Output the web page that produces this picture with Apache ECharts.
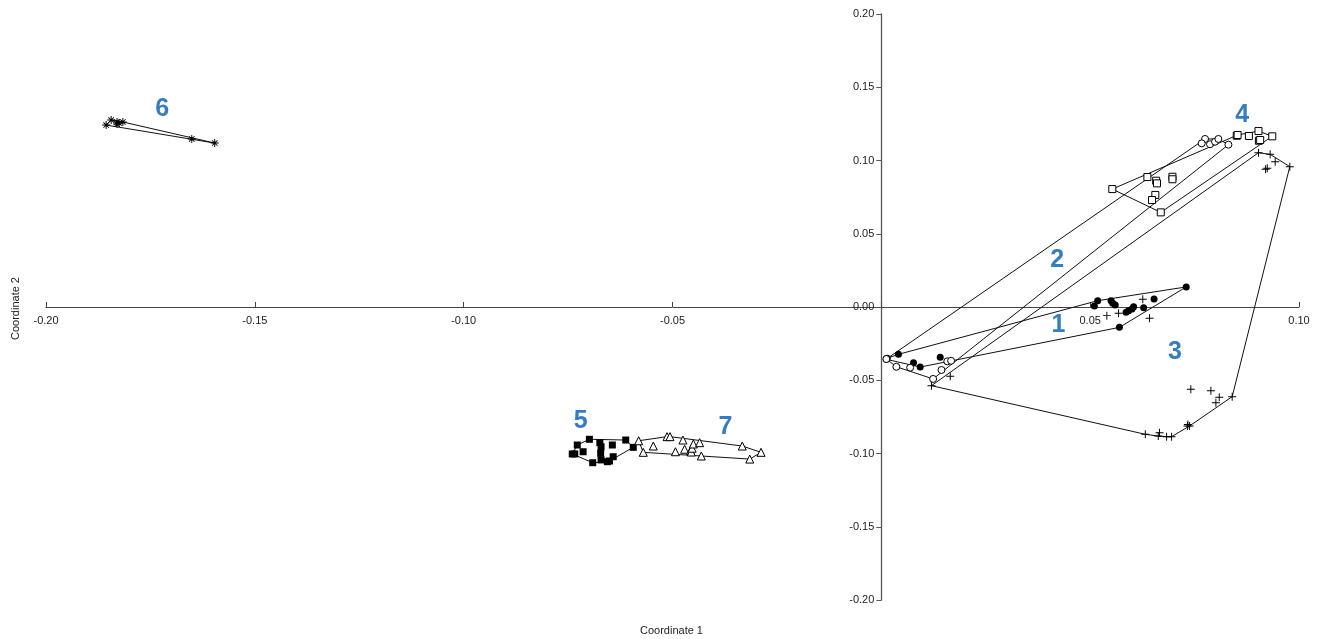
<!DOCTYPE html>
<html>
<head>
<meta charset="utf-8">
<script src="https://cdn.jsdelivr.net/npm/echarts@6/dist/echarts.min.js"></script>
<style>
  html, body { margin: 0; padding: 0; background: #ffffff; }
  #chart { width: 1320px; height: 639px; }
</style>
</head>
<body>
<div id="chart"></div>
<script>
// Ordination scores (Coordinate 1, Coordinate 2) for the seven groups
const group1 = [
  [0.0014, -0.0350], [0.0012, -0.0357], [0.0041, -0.0323], [0.0077, -0.0380],
  [0.0093, -0.0410], [0.0141, -0.0343], [0.0510, 0.0007], [0.0518, 0.0043],
  [0.0550, 0.0043], [0.0554, 0.0025], [0.0560, 0.0014], [0.0586, -0.0036],
  [0.0592, -0.0025], [0.0600, -0.0014], [0.0604, 0.0002], [0.0628, -0.0005],
  [0.0653, 0.0055], [0.0570, -0.0139], [0.0730, 0.0137]
];
const group2 = [
  [0.0012, -0.0355], [0.0036, -0.0408], [0.0069, -0.0414], [0.0124, -0.0491],
  [0.0144, -0.0430], [0.0158, -0.0371], [0.0167, -0.0367], [0.0775, 0.1147],
  [0.0767, 0.1117], [0.0787, 0.1111], [0.0799, 0.1128], [0.0807, 0.1147],
  [0.0831, 0.1108]
];
const group3 = [
  [0.0165, -0.0473], [0.0120, -0.0537], [0.0540, -0.0059], [0.0568, -0.0043],
  [0.0626, 0.0053], [0.0642, -0.0077], [0.0741, -0.0562], [0.0789, -0.0571],
  [0.0809, -0.0616], [0.0801, -0.0653], [0.0840, -0.0612], [0.0733, -0.0812],
  [0.0738, -0.0812], [0.0734, -0.0802], [0.0632, -0.0869], [0.0666, -0.0858],
  [0.0663, -0.0881], [0.0683, -0.0885], [0.0695, -0.0885], [0.0903, 0.1053],
  [0.0931, 0.1042], [0.0943, 0.0992], [0.0924, 0.0947], [0.0920, 0.0940],
  [0.0978, 0.0958]
];
const group4 = [
  [0.0553, 0.0805], [0.0637, 0.0887], [0.0658, 0.0862], [0.0660, 0.0844],
  [0.0697, 0.0889], [0.0697, 0.0872], [0.0656, 0.0765], [0.0648, 0.0730],
  [0.0669, 0.0646], [0.0851, 0.1169], [0.0853, 0.1174], [0.0880, 0.1167],
  [0.0903, 0.1201], [0.0936, 0.1165], [0.0904, 0.1135], [0.0907, 0.1140]
];
const group5 = [
  [-0.0740, -0.1003], [-0.0734, -0.1003], [-0.0728, -0.0942], [-0.0714, -0.0988],
  [-0.0699, -0.0903], [-0.0691, -0.1063], [-0.0674, -0.0926], [-0.0671, -0.0954],
  [-0.0672, -0.0999], [-0.0671, -0.1044], [-0.0656, -0.1056], [-0.0644, -0.0942],
  [-0.0642, -0.1022], [-0.0651, -0.1051], [-0.0612, -0.0908], [-0.0594, -0.0958]
];
const group6 = [
  [-0.1856, 0.1242], [-0.1844, 0.1276], [-0.1830, 0.1263], [-0.1825, 0.1256],
  [-0.1816, 0.1263], [-0.1830, 0.1249], [-0.1651, 0.1147], [-0.1596, 0.1119]
];
const group7 = [
  [-0.0581, -0.0913], [-0.0570, -0.0992], [-0.0546, -0.0949], [-0.0513, -0.0885],
  [-0.0506, -0.0885], [-0.0493, -0.0988], [-0.0475, -0.0908], [-0.0471, -0.0971],
  [-0.0457, -0.0981], [-0.0455, -0.0990], [-0.0453, -0.0964], [-0.0450, -0.0935],
  [-0.0435, -0.0926], [-0.0431, -0.1017], [-0.0333, -0.0949], [-0.0315, -0.1038],
  [-0.0288, -0.0992]
];
const groupNames = ['1', '2', '3', '4', '5', '6', '7'];
const xAxisTitle = 'Coordinate 1';
const yAxisTitle = 'Coordinate 2';

// Axis ranges
const X_MIN = -0.2, X_MAX = 0.1, X_STEP = 0.05;
const Y_MIN = -0.2, Y_MAX = 0.2, Y_STEP = 0.05;

// Marker shapes per group (hollow shapes: white fill, thin black outline)
const PLUS = 'path://M4.4,0H5.6V10H4.4ZM0,4.4H10V5.6H0Z';
const STAR = 'path://M4.4,0H5.6V10H4.4ZM0,4.4H10V5.6H0ZM1.2,2.0L2.0,1.2L8.8,8.0L8.0,8.8ZM8.0,1.2L8.8,2.0L2.0,8.8L1.2,8.0Z';
const groups = [
  { name: groupNames[0], data: group1, symbol: 'circle', size: 7, hollow: false },
  { name: groupNames[1], data: group2, symbol: 'circle', size: 7, hollow: true },
  { name: groupNames[2], data: group3, symbol: PLUS, size: 8, hollow: false },
  { name: groupNames[3], data: group4, symbol: 'rect', size: 7, hollow: true },
  { name: groupNames[4], data: group5, symbol: 'rect', size: 7, hollow: false },
  { name: groupNames[5], data: group6, symbol: STAR, size: 8, hollow: false },
  { name: groupNames[6], data: group7, symbol: 'triangle', size: 8, hollow: true }
];

// Group number placement (data coordinates)
const labelAnchors = {
  '1': [0.0424, -0.0122], '2': [0.0421, 0.0318], '3': [0.0703, -0.0307],
  '4': [0.0864, 0.1311], '5': [-0.0720, -0.0778], '6': [-0.1722, 0.1350],
  '7': [-0.0373, -0.0819]
};

// Convex hull (monotone chain), returned as a closed polygon
function convexHull(pts) {
  const p = pts.slice().sort((a, b) => a[0] - b[0] || a[1] - b[1]);
  const cross = (o, a, b) => (a[0] - o[0]) * (b[1] - o[1]) - (a[1] - o[1]) * (b[0] - o[0]);
  const lower = [];
  for (const q of p) {
    while (lower.length >= 2 && cross(lower[lower.length - 2], lower[lower.length - 1], q) <= 0) lower.pop();
    lower.push(q);
  }
  const upper = [];
  for (let i = p.length - 1; i >= 0; i--) {
    const q = p[i];
    while (upper.length >= 2 && cross(upper[upper.length - 2], upper[upper.length - 1], q) <= 0) upper.pop();
    upper.push(q);
  }
  upper.pop(); lower.pop();
  const hull = lower.concat(upper);
  hull.push(hull[0]);
  return hull;
}

const series = [];
groups.forEach(g => {
  series.push({
    type: 'line',
    name: 'hull ' + g.name,
    data: convexHull(g.data),
    showSymbol: false,
    symbol: 'none',
    silent: true,
    z: 2,
    lineStyle: { color: '#111', width: 1 }
  });
});
groups.forEach(g => {
  series.push({
    type: 'scatter',
    name: g.name,
    data: g.data,
    symbol: g.symbol,
    symbolSize: g.size,
    z: 3,
    itemStyle: g.hollow
      ? { color: '#ffffff', borderColor: '#000', borderWidth: 1, opacity: 1 }
      : { color: '#000', opacity: 1 }
  });
});
series.push({
  type: 'scatter',
  name: 'group labels',
  data: groupNames.map(n => ({ name: n, value: labelAnchors[n] })),
  symbol: 'circle',
  symbolSize: 1,
  itemStyle: { color: 'transparent' },
  z: 5,
  silent: true,
  label: {
    show: true,
    position: 'inside',
    formatter: p => p.name,
    color: '#005cb0',
    textBorderWidth: 0,
    textShadowBlur: 0,
    fontFamily: 'Liberation Sans, Arial, sans-serif',
    fontWeight: 'bold',
    fontSize: 25
  }
});

// Plot area and the offsets that put both axes through the origin
const W = 1320, H = 639;
const GRID = { left: 46, right: 21, top: 14, bottom: 39 };
const plotW = W - GRID.left - GRID.right;
const plotH = H - GRID.top - GRID.bottom;
const yAxisOffset = -plotW * (0 - X_MIN) / (X_MAX - X_MIN);
const xAxisOffset = -plotH * (0 - Y_MIN) / (Y_MAX - Y_MIN);

const chart = echarts.init(document.getElementById('chart'), null, { renderer: 'canvas' });
chart.setOption({
  animation: false,
  backgroundColor: '#ffffff',
  textStyle: { fontFamily: 'Liberation Sans, Arial, sans-serif' },
  grid: Object.assign({ containLabel: false }, GRID),
  xAxis: {
    type: 'value',
    position: 'bottom',
    offset: xAxisOffset,
    min: X_MIN, max: X_MAX, interval: X_STEP,
    splitLine: { show: false },
    axisLine: { onZero: false, lineStyle: { color: '#444', width: 1 } },
    axisTick: { show: true, inside: true, length: 5, lineStyle: { color: '#444' } },
    axisLabel: {
      color: '#222', fontSize: 11, margin: 8,
      formatter: v => (Math.abs(v) < 1e-9 ? '' : v.toFixed(2))
    }
  },
  yAxis: {
    type: 'value',
    position: 'left',
    offset: yAxisOffset,
    min: Y_MIN, max: Y_MAX, interval: Y_STEP,
    splitLine: { show: false },
    axisLine: { onZero: false, lineStyle: { color: '#555', width: 1.3 } },
    axisTick: { show: true, inside: false, length: 5, lineStyle: { color: '#555' } },
    axisLabel: {
      color: '#222', fontSize: 11, margin: 7,
      formatter: v => (Math.abs(v) < 1e-9 ? '0.00' : v.toFixed(2))
    }
  },
  graphic: [
    {
      type: 'text', left: 640, top: 625,
      style: { text: xAxisTitle, fill: '#222', font: '11px Liberation Sans, Arial, sans-serif' }
    },
    {
      type: 'text', x: 10, y: 340, rotation: Math.PI / 2,
      style: { text: yAxisTitle, fill: '#222', font: '11px Liberation Sans, Arial, sans-serif' }
    }
  ],
  series: series
});
</script>
</body>
</html>
